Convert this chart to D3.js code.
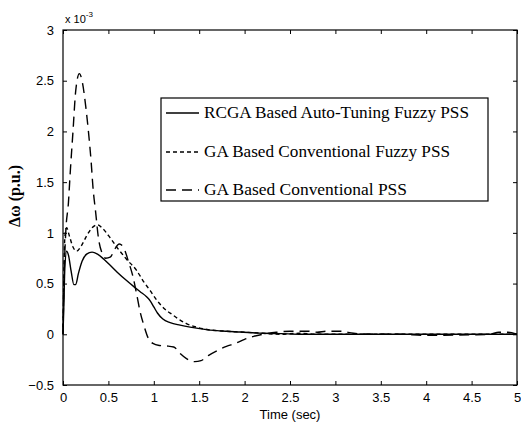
<!DOCTYPE html>
<html>
<head>
<meta charset="utf-8">
<script src="https://cdn.jsdelivr.net/npm/d3@7"></script>
<style>
  body { margin: 0; background: #fff; }
  .tick text { font-family: "Liberation Sans", Arial, sans-serif; font-size: 13px; fill: #000; }
</style>
</head>
<body>
<script>
// values, y in units of 1e-3 p.u.
const rcgaT = [0, 0.01, 0.02, 0.04, 0.06, 0.09, 0.12, 0.14, 0.17, 0.21, 0.26, 0.32, 0.38, 0.45, 0.52, 0.6, 0.7, 0.78, 0.85, 0.92, 0.96, 1.0, 1.04, 1.1, 1.18, 1.29, 1.4, 1.58, 1.8, 1.95, 2.2, 2.4, 2.6, 3.0, 3.5, 4.0, 4.5, 5.0]
const rcgaV = [0, 0.3, 0.65, 0.82, 0.78, 0.62, 0.49, 0.49, 0.6, 0.72, 0.79, 0.81, 0.79, 0.74, 0.68, 0.61, 0.53, 0.47, 0.42, 0.37, 0.33, 0.27, 0.21, 0.15, 0.115, 0.09, 0.07, 0.046, 0.03, 0.023, 0.01, 0.007, 0.0, 0.0, 0.0, 0.0, 0.0, 0.0]

const fuzzyT = [0, 0.01, 0.02, 0.04, 0.07, 0.11, 0.15, 0.2, 0.26, 0.32, 0.38, 0.44, 0.52, 0.6, 0.7, 0.81, 0.88, 0.96, 1.03, 1.12, 1.21, 1.29, 1.36, 1.47, 1.6, 1.8, 2.0, 2.2, 2.4, 2.6, 2.8, 3.0, 3.5, 4.0, 4.5, 5.0]
const fuzzyV = [0, 0.6, 0.95, 1.05, 0.97, 0.86, 0.82, 0.87, 0.97, 1.05, 1.08, 1.04, 0.95, 0.85, 0.74, 0.63, 0.53, 0.43, 0.34, 0.25, 0.19, 0.14, 0.105, 0.07, 0.045, 0.03, 0.02, 0.01, 0.0, 0.01, 0.0, 0.0, 0.0, 0.0, 0.0, 0.0]

const convT = [0, 0.01, 0.03, 0.06, 0.08, 0.11, 0.14, 0.18, 0.21, 0.25, 0.28, 0.31, 0.33, 0.36, 0.39, 0.43, 0.47, 0.52, 0.57, 0.62, 0.67, 0.72, 0.77, 0.81, 0.85, 0.89, 0.94, 0.99, 1.06, 1.14, 1.22, 1.29, 1.36, 1.45, 1.52, 1.6, 1.7, 1.8, 1.9, 2.0, 2.1, 2.2, 2.35, 2.5, 2.7, 2.8, 2.9, 3.05, 3.2, 3.4, 3.7, 4.0, 4.5, 4.7, 4.8, 4.9, 5.0]
const convV = [0, 0.5, 1.0, 1.3, 1.6, 2.0, 2.4, 2.57, 2.5, 2.25, 2.0, 1.7, 1.45, 1.2, 0.95, 0.8, 0.75, 0.76, 0.84, 0.89, 0.85, 0.72, 0.57, 0.4, 0.22, 0.09, -0.04, -0.09, -0.11, -0.115, -0.125, -0.19, -0.24, -0.27, -0.26, -0.21, -0.16, -0.12, -0.09, -0.05, -0.02, 0.0, 0.02, 0.03, 0.03, 0.02, 0.03, 0.03, 0.01, 0.0, 0.0, -0.01, -0.005, 0.0, 0.02, 0.02, 0.0]

const legendNames = ['RCGA Based Auto-Tuning Fuzzy PSS', 'GA Based Conventional Fuzzy PSS', 'GA Based Conventional PSS']
const dashes = [null, '4,3', '10,6']

const xTicks = [0, 0.5, 1, 1.5, 2, 2.5, 3, 3.5, 4, 4.5, 5]
const yTicks = [-0.5, 0, 0.5, 1, 1.5, 2, 2.5, 3]

const W = 521, H = 427
const m = {top: 30, right: 4, bottom: 42, left: 63}

const svg = d3.select('body').append('svg')
  .attr('width', W)
  .attr('height', H)

const x = d3.scaleLinear().domain([0, 5]).range([m.left, W - m.right])
const y = d3.scaleLinear().domain([-0.5, 3]).range([H - m.bottom, m.top])

// axes, ticks pointing inward on all four sides
svg.append('g')
  .attr('transform', `translate(0,${H - m.bottom})`)
  .call(d3.axisBottom(x).tickValues(xTicks).tickSizeInner(-4).tickSizeOuter(0).tickPadding(8).tickFormat(d3.format('')))
svg.append('g')
  .attr('transform', `translate(0,${m.top})`)
  .call(d3.axisTop(x).tickValues(xTicks).tickSizeInner(-4).tickSizeOuter(0).tickFormat(''))
svg.append('g')
  .attr('transform', `translate(${m.left},0)`)
  .call(d3.axisLeft(y).tickValues(yTicks).tickSizeInner(-4).tickSizeOuter(0).tickPadding(9).tickFormat(d3.format('')))
svg.append('g')
  .attr('transform', `translate(${W - m.right},0)`)
  .call(d3.axisRight(y).tickValues(yTicks).tickSizeInner(-4).tickSizeOuter(0).tickFormat(''))

svg.selectAll('.domain').remove()
svg.selectAll('.tick line').attr('stroke', '#000')

svg.append('rect')
  .attr('x', m.left).attr('y', m.top)
  .attr('width', W - m.left - m.right)
  .attr('height', H - m.top - m.bottom)
  .attr('fill', 'none')
  .attr('stroke', '#000')
  .attr('stroke-width', 1.2)

// curves
const line = d3.line()
  .x(d => x(d[0]))
  .y(d => y(d[1]))
  .curve(d3.curveMonotoneX)

const series = [
  d3.zip(rcgaT, rcgaV),
  d3.zip(fuzzyT, fuzzyV),
  d3.zip(convT, convV)
]

series.forEach((s, i) => {
  svg.append('path')
    .datum(s)
    .attr('d', line)
    .attr('fill', 'none')
    .attr('stroke', '#000')
    .attr('stroke-width', 1.4)
    .attr('stroke-dasharray', dashes[i])
})

// legend
const lg = svg.append('g')
lg.append('rect')
  .attr('x', 161).attr('y', 98)
  .attr('width', 327).attr('height', 103)
  .attr('fill', '#fff')
  .attr('stroke', '#000')
  .attr('stroke-width', 1.2)

const rowY = [113, 152, 190]
const textW = [265, 246, 203]
legendNames.forEach((name, i) => {
  lg.append('line')
    .attr('x1', 166).attr('x2', 199)
    .attr('y1', rowY[i]).attr('y2', rowY[i])
    .attr('stroke', '#000')
    .attr('stroke-width', 1.3)
    .attr('stroke-dasharray', dashes[i])
  lg.append('text')
    .attr('x', 204)
    .attr('y', rowY[i] + 5)
    .attr('textLength', textW[i])
    .attr('lengthAdjust', 'spacingAndGlyphs')
    .style('font-family', '"Liberation Serif", "Times New Roman", serif')
    .style('font-size', '16px')
    .text(name)
})

// labels
svg.append('text')
  .attr('x', 290).attr('y', 419)
  .attr('text-anchor', 'middle')
  .style('font-family', '"Liberation Sans", Arial, sans-serif')
  .style('font-size', '13px')
  .text('Time (sec)')

svg.append('text')
  .attr('transform', 'translate(20,196) rotate(-90)')
  .attr('text-anchor', 'middle')
  .style('font-family', '"Liberation Serif", "Times New Roman", serif')
  .style('font-size', '16px')
  .style('font-weight', 'bold')
  .text('Δω (p.u.)')

const ex = svg.append('text')
  .attr('x', 65).attr('y', 23)
  .style('font-family', '"Liberation Sans", Arial, sans-serif')
  .style('font-size', '11px')
ex.append('tspan').text('x 10')
ex.append('tspan').attr('dy', -6).style('font-size', '8px').text('-3')
</script>
</body>
</html>
